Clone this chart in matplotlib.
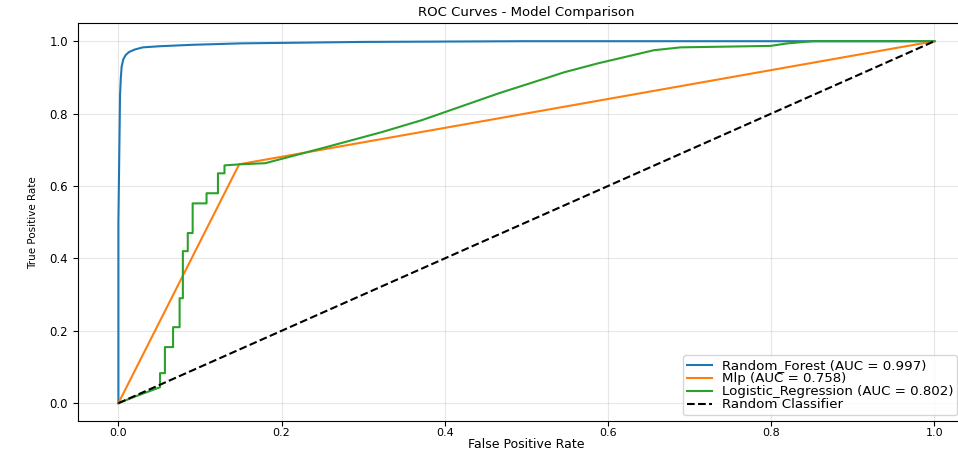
import numpy as np
import matplotlib
matplotlib.use("Agg")
import matplotlib.pyplot as plt

# ROC points
rf_fpr = [0.0, 0.0, 0.002, 0.003, 0.004, 0.006, 0.009, 0.013, 0.02, 0.03, 0.05, 0.09, 0.15, 0.3, 0.5, 1.0]
rf_tpr = [0.0, 0.5, 0.85, 0.9, 0.93, 0.95, 0.962, 0.97, 0.977, 0.983, 0.986, 0.99, 0.994, 0.998, 1.0, 1.0]
rf_auc = 0.997

mlp_fpr = [0.0, 0.148, 1.0]
mlp_tpr = [0.0, 0.66, 1.0]
mlp_auc = 0.758

lr_fpr = [0.0, 0.02, 0.051, 0.051, 0.057, 0.057, 0.067, 0.067, 0.075, 0.075, 0.079, 0.079,
          0.085, 0.085, 0.091, 0.091, 0.108, 0.108, 0.122, 0.122, 0.13, 0.13, 0.15, 0.18,
          0.254, 0.323, 0.372, 0.4, 0.466, 0.527, 0.546, 0.588, 0.656, 0.689, 0.799, 0.82,
          0.851, 1.0]
lr_tpr = [0.0, 0.018, 0.044, 0.083, 0.083, 0.155, 0.155, 0.21, 0.21, 0.29, 0.29, 0.42,
          0.42, 0.47, 0.47, 0.552, 0.552, 0.58, 0.58, 0.635, 0.635, 0.657, 0.66, 0.663,
          0.707, 0.749, 0.782, 0.804, 0.856, 0.90, 0.914, 0.939, 0.975, 0.983, 0.987, 0.994,
          1.0, 1.0]
lr_auc = 0.802

chance = [0.0, 1.0]


def main():
    fig = plt.figure(figsize=(9.58, 4.53), dpi=100)
    ax = fig.add_axes([0.081, 0.07, 0.937, 0.879])

    ax.plot(rf_fpr, rf_tpr, lw=1.5, label=f"Random_Forest (AUC = {rf_auc:.3f})")
    ax.plot(mlp_fpr, mlp_tpr, lw=1.5, label=f"Mlp (AUC = {mlp_auc:.3f})")
    ax.plot(lr_fpr, lr_tpr, lw=1.5, label=f"Logistic_Regression (AUC = {lr_auc:.3f})")
    ax.plot(chance, chance, "k--", lw=1.5, label="Random Classifier")

    ax.set_xlim(-0.05, 1.05)
    ax.set_ylim(-0.05, 1.05)
    ax.set_xticks([0.0, 0.2, 0.4, 0.6, 0.8, 1.0])
    ax.set_yticks([0.0, 0.2, 0.4, 0.6, 0.8, 1.0])
    ax.tick_params(labelsize=8.5, length=3.5)
    ax.tick_params(axis="x", labelsize=8, pad=1.5)
    ax.grid(True, alpha=0.3)

    ax.set_xlabel("False Positive Rate", fontsize=9, labelpad=0)
    ax.set_ylabel("True Positive Rate", fontsize=7.5, labelpad=8)
    ax.set_title("ROC Curves - Model Comparison", fontsize=9.5, pad=5)

    # the reference crops the right edge of the axes, keep the legend inside the picture
    ax.legend(loc="lower right", bbox_to_anchor=(0.98, 0.015), borderaxespad=0,
              fontsize=9.6, labelspacing=0.0, handlelength=1.9, handletextpad=0.7,
              borderpad=0.3)

    plt.savefig("out.png", dpi=100)


if __name__ == "__main__":
    main()
